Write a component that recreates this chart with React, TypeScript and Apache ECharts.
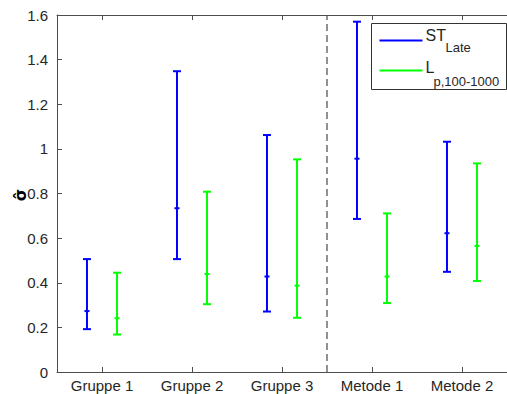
import React, { useEffect, useRef } from "react";
import * as echarts from "echarts";

const categories = ["Gruppe 1", "Gruppe 2", "Gruppe 3", "Metode 1", "Metode 2"];
const stLateMid = [0.273, 0.734, 0.428, 0.956, 0.622];
const stLateLow = [0.192, 0.506, 0.271, 0.686, 0.449];
const stLateHigh = [0.506, 1.348, 1.062, 1.57, 1.032];
const lpMid = [0.241, 0.439, 0.387, 0.428, 0.565];
const lpLow = [0.168, 0.304, 0.243, 0.309, 0.408];
const lpHigh = [0.445, 0.808, 0.953, 0.711, 0.935];
const yTicks = [0, 0.2, 0.4, 0.6, 0.8, 1, 1.2, 1.4, 1.6];
const dividerX = 3.5;
const yAxisTitle = "\u03c3\u0302";

const FONT = "'Liberation Sans', Arial, Helvetica, sans-serif";
const TEXT = "#262626";
const AXIS = "#4d4d4d";
const BLUE = "#0000ff";
const GREEN = "#00ff00";

function errorSeries(name: string, color: string, offset: number, low: number[], high: number[], mid: number[]) {
  return {
    type: "custom",
    name,
    data: categories.map((_, i) => [i + 1 + offset, low[i], high[i], mid[i]]),
    encode: { x: 0, y: [1, 2, 3] },
    z: 5,
    renderItem: (params: any, api: any) => {
      const x = api.value(0);
      const lo = api.coord([x, api.value(1)]);
      const hi = api.coord([x, api.value(2)]);
      const md = api.coord([x, api.value(3)]);
      const cap = 4;
      const tick = 2.5;
      const style = { stroke: color, lineWidth: 2 };
      return {
        type: "group",
        children: [
          { type: "line", shape: { x1: lo[0], y1: lo[1], x2: hi[0], y2: hi[1] }, style },
          { type: "line", shape: { x1: lo[0] - cap, y1: lo[1], x2: lo[0] + cap, y2: lo[1] }, style },
          { type: "line", shape: { x1: hi[0] - cap, y1: hi[1], x2: hi[0] + cap, y2: hi[1] }, style },
          { type: "line", shape: { x1: md[0] - tick, y1: md[1], x2: md[0] + tick, y2: md[1] }, style },
        ],
      };
    },
  };
}

export default function App() {
  const ref = useRef<HTMLDivElement>(null);
  useEffect(() => {
    if (!ref.current) return;
    const chart = echarts.init(ref.current, null, { renderer: "svg" });
    const tickVals = categories.map((_, i) => i + 1);
    chart.setOption({
      animation: false,
      backgroundColor: "#ffffff",
      grid: { left: 57, top: 15, bottom: 22, right: -6, containLabel: false },
      xAxis: [
        {
          type: "value",
          min: 0.5,
          max: 5.5,
          splitLine: { show: false },
          axisLine: { lineStyle: { color: AXIS, width: 1 } },
          axisTick: { inside: true, length: 5, customValues: tickVals, lineStyle: { color: AXIS } },
          axisLabel: {
            customValues: tickVals,
            formatter: (v: number) => categories[Math.round(v) - 1] ?? "",
            color: TEXT,
            fontFamily: FONT,
            fontSize: 15,
            margin: 6,
          },
        },
        {
          type: "value",
          position: "top",
          min: 0.5,
          max: 5.5,
          splitLine: { show: false },
          axisLine: { lineStyle: { color: AXIS, width: 1 } },
          axisTick: { inside: true, length: 5, customValues: tickVals, lineStyle: { color: AXIS } },
          axisLabel: { show: false },
        },
      ],
      yAxis: {
        type: "value",
        min: 0,
        max: 1.6,
        interval: 0.2,
        splitLine: { show: false },
        axisLine: { show: true, lineStyle: { color: AXIS, width: 1 } },
        axisTick: { inside: true, length: 5, lineStyle: { color: AXIS } },
        axisLabel: {
          color: TEXT,
          fontFamily: FONT,
          fontSize: 15,
          margin: 9,
          formatter: (v: number) => {
            const t = yTicks.find((k) => Math.abs(k - v) < 1e-6);
            return t === undefined ? "" : String(t);
          },
        },
      },
      series: [
        {
          type: "line",
          silent: true,
          symbol: "none",
          data: [
            [dividerX, 0],
            [dividerX, 1.6],
          ],
          lineStyle: { color: "#555555", width: 1.3, type: [7, 4] },
          z: 2,
        },
        errorSeries("ST_Late", BLUE, -0.167, stLateLow, stLateHigh, stLateMid),
        errorSeries("L_p,100-1000", GREEN, 0.167, lpLow, lpHigh, lpMid),
      ],
      graphic: [
        {
          type: "text",
          x: 20,
          y: 195,
          rotation: Math.PI / 2,
          style: {
            text: yAxisTitle,
            fontFamily: "'DejaVu Sans', sans-serif",
            fontSize: 16,
            fontWeight: "bold",
            fill: "#000",
            align: "center",
            verticalAlign: "middle",
          },
        },
        {
          type: "group",
          left: 371,
          top: 23,
          z: 100,
          children: [
            { type: "rect", shape: { x: 0, y: 0, width: 135, height: 66 }, style: { fill: "#fff", stroke: "#333", lineWidth: 1 } },
            { type: "line", shape: { x1: 8, y1: 17, x2: 51, y2: 17 }, style: { stroke: BLUE, lineWidth: 2 } },
            { type: "line", shape: { x1: 8, y1: 47, x2: 51, y2: 47 }, style: { stroke: GREEN, lineWidth: 2 } },
            { type: "text", x: 54, y: 11.5, style: { text: "ST", fontFamily: FONT, fontSize: 16, fill: TEXT, verticalAlign: "middle" } },
            { type: "text", x: 74, y: 24, style: { text: "Late", fontFamily: FONT, fontSize: 13, fill: TEXT, verticalAlign: "middle" } },
            { type: "text", x: 54, y: 44, style: { text: "L", fontFamily: FONT, fontSize: 16, fill: TEXT, verticalAlign: "middle" } },
            { type: "text", x: 62, y: 57.5, style: { text: "p,100-1000", fontFamily: FONT, fontSize: 13, fill: TEXT, verticalAlign: "middle" } },
          ],
        },
      ],
    });
    return () => chart.dispose();
  }, []);
  return <div ref={ref} style={{ width: 507, height: 394, position: "absolute", left: 0, top: 0 }} />;
}
